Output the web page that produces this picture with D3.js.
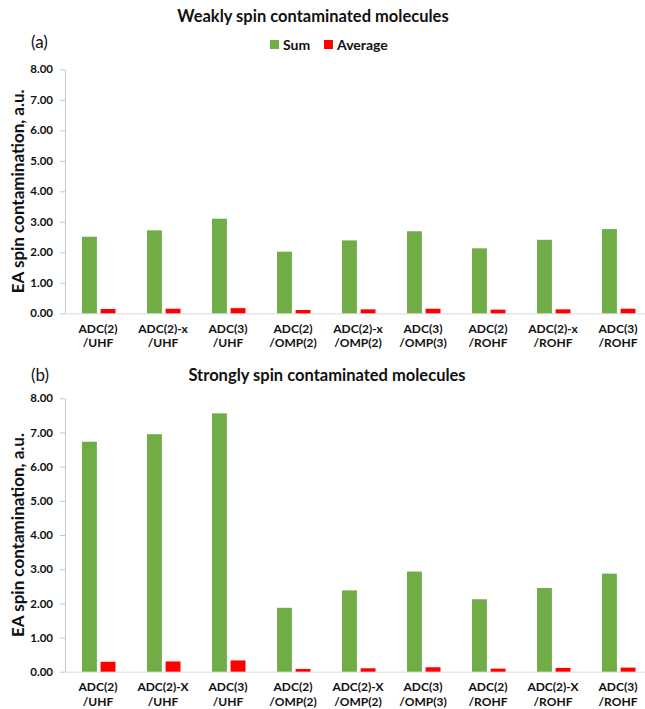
<!DOCTYPE html>
<html>
<head>
<meta charset="utf-8">
<script src="https://cdn.jsdelivr.net/npm/d3@7"></script>
<style>
  body { margin: 0; background: #fff; }
  svg { display: block; }
  text { font-family: Lato, "Open Sans", sans-serif; fill: #111; }
</style>
</head>
<body>
<svg id="chart" width="645" height="709"></svg>
<script>
// Methods (line 1 of each category label) and reference wavefunctions (line 2)
const methodsWeak = ["ADC(2)", "ADC(2)-x", "ADC(3)", "ADC(2)", "ADC(2)-x", "ADC(3)", "ADC(2)", "ADC(2)-x", "ADC(3)"];
const methodsStrong = ["ADC(2)", "ADC(2)-X", "ADC(3)", "ADC(2)", "ADC(2)-X", "ADC(3)", "ADC(2)", "ADC(2)-X", "ADC(3)"];
const references = ["/UHF", "/UHF", "/UHF", "/OMP(2)", "/OMP(2)", "/OMP(3)", "/ROHF", "/ROHF", "/ROHF"];

const seriesNames = ["Sum", "Average"];
const seriesColors = ["#70AD47", "#FF0000"];

// EA spin contamination, a.u.
const weakSum = [2.51, 2.72, 3.10, 2.02, 2.39, 2.69, 2.13, 2.41, 2.76];
const weakAverage = [0.14, 0.15, 0.17, 0.11, 0.13, 0.15, 0.12, 0.13, 0.15];
const strongSum = [6.73, 6.95, 7.56, 1.87, 2.38, 2.93, 2.12, 2.45, 2.87];
const strongAverage = [0.29, 0.30, 0.33, 0.08, 0.10, 0.13, 0.09, 0.11, 0.12];

const yTicks = [0, 1, 2, 3, 4, 5, 6, 7, 8];

const svg = d3.select("#chart");
const color = d3.scaleOrdinal().domain(seriesNames).range(seriesColors);

function drawPanel(opts) {
  const { methods, sums, averages, yZero, yTop, title, titleY, tag, tagY } = opts;
  const keys = methods.map((m, i) => m + references[i]);

  const x = d3.scaleBand().domain(keys).range([65, 650]).paddingInner(0).paddingOuter(0);
  const xSeries = d3.scaleBand().domain(seriesNames).range([-15.5, 18]).paddingInner(0.2);
  const y = d3.scaleLinear().domain([0, 8]).range([yZero, yTop]);

  const g = svg.append("g");

  // y axis
  const yAxis = g.append("g")
    .attr("transform", "translate(65,0)")
    .call(d3.axisLeft(y).tickValues(yTicks).tickFormat(d3.format(".2f"))
      .tickSize(5).tickSizeOuter(0).tickPadding(7));
  yAxis.select(".domain").attr("stroke", "#c8c8c8");
  yAxis.selectAll(".tick line").attr("stroke", "#c8c8c8");
  yAxis.selectAll(".tick text")
    .attr("font-family", "Lato, sans-serif")
    .attr("font-size", 11.5)
    .attr("font-weight", "bold")
    .attr("fill", "#111");

  // x axis baseline
  const xAxis = g.append("g")
    .attr("transform", `translate(0,${yZero})`)
    .call(d3.axisBottom(x).tickSize(0).tickSizeOuter(0).tickFormat(""));
  xAxis.select(".domain").attr("stroke", "#d9d9d9");

  // bars
  const rows = keys.map((k, i) => ({ key: k, values: [
    { series: "Sum", value: sums[i] },
    { series: "Average", value: averages[i] }
  ]}));

  const groups = g.selectAll("g.cat").data(rows).join("g")
    .attr("class", "cat")
    .attr("transform", d => `translate(${x(d.key) + x.bandwidth() / 2},0)`);

  groups.selectAll("rect").data(d => d.values).join("rect")
    .attr("x", d => xSeries(d.series))
    .attr("width", xSeries.bandwidth())
    .attr("y", d => y(d.value))
    .attr("height", d => y(0) - y(d.value))
    .attr("fill", d => color(d.series));

  // category labels (two lines, as separate text elements)
  const cx = d => x(d) + x.bandwidth() / 2 + 0.5;
  [[methods, 19.5], [references, 34]].forEach(([lines, dy], row) => {
    g.selectAll(`text.cat-label-${row}`).data(keys).join("text")
      .attr("class", `cat-label-${row}`)
      .attr("text-anchor", "middle")
      .attr("font-size", 12)
      .attr("font-weight", "bold")
      .attr("x", cx)
      .attr("y", yZero + dy)
      .text((d, i) => lines[i]);
  });

  // y axis title
  g.append("text")
    .attr("transform", `translate(24,${(yZero + yTop) / 2}) rotate(-90)`)
    .attr("text-anchor", "middle")
    .attr("font-size", 17)
    .attr("font-weight", "bold")
    .text("EA spin contamination, a.u.");

  // panel title and tag
  g.append("text")
    .attr("x", opts.titleX)
    .attr("y", titleY)
    .attr("text-anchor", "middle")
    .attr("font-size", 16.5)
    .attr("font-weight", "bold")
    .text(title);

  g.append("text")
    .attr("x", 31)
    .attr("y", tagY)
    .attr("font-size", 17)
    .text(tag);
}

drawPanel({
  methods: methodsWeak, sums: weakSum, averages: weakAverage,
  yZero: 313.3, yTop: 69.3,
  title: "Weakly spin contaminated molecules", titleX: 313, titleY: 22,
  tag: "(a)", tagY: 48
});

drawPanel({
  methods: methodsStrong, sums: strongSum, averages: strongAverage,
  yZero: 671.7, yTop: 398.3,
  title: "Strongly spin contaminated molecules", titleX: 327, titleY: 380.5,
  tag: "(b)", tagY: 381
});

// legend
const legend = svg.append("g").attr("transform", "translate(270,40)");
const legendOffsets = [0, 54];
const items = legend.selectAll("g").data(seriesNames).join("g")
  .attr("transform", (d, i) => `translate(${legendOffsets[i]},0)`);
items.append("rect").attr("width", 9).attr("height", 9).attr("fill", d => color(d));
items.append("text")
  .attr("x", 13).attr("y", 9.5)
  .attr("font-size", 14)
  .attr("font-weight", "bold")
  .text(d => d);
</script>
</body>
</html>
